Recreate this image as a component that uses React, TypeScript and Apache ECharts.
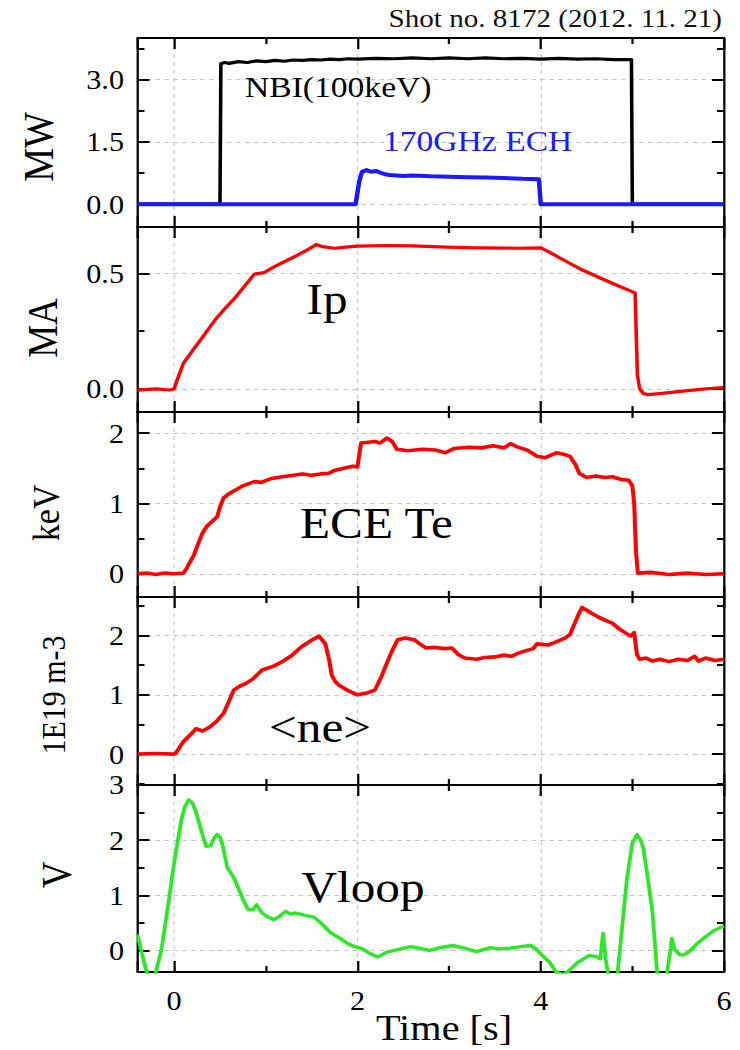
import React, { useEffect, useRef } from "react";
import * as echarts from "echarts";

// ---- time axis -------------------------------------------------------------
const TIME_MIN = -0.4;
const TIME_MAX = 6;
const TIME_STEP = 2;

// ---- panels (top to bottom) ---------------------------------------------------
const panelUnits = ["MW", "MA", "keV", "1E19 m-3", "V"];
const panelMin = [-0.55, -0.1, -0.33, -0.52, -0.39];
const panelMax = [4.0, 0.7, 2.3, 2.65, 3];
const panelStep = [1.5, 0.5, 1, 1, 1];
const panelDecimals = [1, 1, 0, 0, 0];

// ---- signals: [time (s), value] ----------------------------------------------
const nbiPower: [number, number][] = [
  [-0.4, 0], [0.49, 0], [0.5, 0], [0.51, 3.38], [0.55, 3.41], [0.6, 3.39], [0.7, 3.43],
  [0.8, 3.41], [0.9, 3.45], [1.0, 3.43], [1.1, 3.46], [1.2, 3.44], [1.3, 3.47], [1.4, 3.46],
  [1.5, 3.48], [1.6, 3.47], [1.7, 3.49], [1.8, 3.48], [1.9, 3.5], [2.0, 3.49], [2.2, 3.51],
  [2.4, 3.5], [2.6, 3.52], [2.8, 3.5], [3.0, 3.52], [3.2, 3.5], [3.4, 3.52], [3.6, 3.5],
  [3.8, 3.51], [4.0, 3.49], [4.2, 3.51], [4.4, 3.49], [4.6, 3.5], [4.8, 3.48], [4.99, 3.48],
  [5.0, 0], [6, 0],
];
const echPower: [number, number][] = [
  [-0.4, 0], [1.98, 0], [2.02, 0.55], [2.05, 0.78], [2.1, 0.82], [2.15, 0.78], [2.2, 0.8],
  [2.25, 0.76], [2.3, 0.72], [2.35, 0.7], [2.5, 0.68], [2.6, 0.69], [2.8, 0.67], [3.0, 0.66],
  [3.2, 0.65], [3.4, 0.64], [3.6, 0.63], [3.8, 0.61], [3.98, 0.6], [4.0, 0], [6, 0],
];
const plasmaCurrent: [number, number][] = [
  [-0.4, -0.005], [-0.2, 0.0], [-0.05, -0.005], [0.0, 0.0], [0.02, 0.024], [0.1, 0.11],
  [0.2, 0.165], [0.31, 0.224], [0.45, 0.3], [0.55, 0.345], [0.67, 0.396], [0.78, 0.45],
  [0.875, 0.496], [0.98, 0.503], [1.1, 0.53], [1.29, 0.567], [1.45, 0.6], [1.55, 0.624],
  [1.62, 0.615], [1.75, 0.608], [1.9, 0.614], [2.0, 0.617], [2.31, 0.62], [2.6, 0.618],
  [2.98, 0.613], [3.3, 0.61], [3.75, 0.608], [4.0, 0.61], [4.1, 0.59], [4.27, 0.553],
  [4.45, 0.515], [4.68, 0.474], [4.85, 0.445], [5.03, 0.415], [5.045, 0.2], [5.055, 0.06],
  [5.08, 0.0], [5.12, -0.02], [5.17, -0.025], [5.35, -0.018], [5.55, -0.01], [5.8, 0.0],
  [5.99, 0.006],
];
const eceTe: [number, number][] = [
  [-0.4, 0.0], [-0.3, 0.01], [-0.2, -0.01], [-0.1, 0.01], [0.0, 0.0], [0.1, 0.01], [0.13, 0.06],
  [0.17, 0.16], [0.21, 0.25], [0.26, 0.42], [0.31, 0.58], [0.36, 0.68], [0.41, 0.74],
  [0.47, 0.81], [0.5, 0.95], [0.54, 1.08], [0.6, 1.14], [0.67, 1.19], [0.75, 1.25],
  [0.875, 1.31], [0.95, 1.3], [1.05, 1.35], [1.18, 1.38], [1.3, 1.4], [1.4, 1.42], [1.5, 1.4],
  [1.6, 1.42], [1.69, 1.43], [1.75, 1.47], [1.85, 1.5], [1.95, 1.53], [2.0, 1.52], [2.04, 1.86],
  [2.12, 1.87], [2.19, 1.88], [2.25, 1.86], [2.32, 1.93], [2.38, 1.88], [2.43, 1.77],
  [2.55, 1.75], [2.71, 1.77], [2.85, 1.76], [2.96, 1.72], [3.05, 1.78], [3.22, 1.8],
  [3.35, 1.79], [3.48, 1.82], [3.6, 1.79], [3.67, 1.85], [3.75, 1.8], [3.85, 1.76],
  [3.96, 1.67], [4.05, 1.65], [4.17, 1.72], [4.25, 1.7], [4.32, 1.67], [4.38, 1.55],
  [4.42, 1.43], [4.5, 1.37], [4.6, 1.39], [4.7, 1.37], [4.78, 1.38], [4.88, 1.34],
  [4.96, 1.33], [5.0, 1.25], [5.02, 1.0], [5.04, 0.3], [5.06, 0.01], [5.2, 0.02],
  [5.4, -0.01], [5.6, 0.01], [5.8, -0.01], [6.0, 0.0],
];
const lineDensity: [number, number][] = [
  [-0.4, 0.0], [-0.2, 0.01], [0.0, 0.0], [0.02, 0.02], [0.1, 0.21], [0.18, 0.33], [0.24, 0.43],
  [0.31, 0.39], [0.38, 0.45], [0.46, 0.55], [0.54, 0.69], [0.6, 0.9], [0.65, 1.08],
  [0.72, 1.15], [0.78, 1.19], [0.86, 1.27], [0.96, 1.42], [1.08, 1.48], [1.18, 1.56],
  [1.28, 1.66], [1.39, 1.81], [1.5, 1.92], [1.58, 1.99], [1.65, 1.86], [1.69, 1.6],
  [1.72, 1.33], [1.76, 1.22], [1.8, 1.16], [1.9, 1.07], [2.0, 1.0], [2.1, 1.03], [2.19, 1.08],
  [2.26, 1.3], [2.32, 1.53], [2.38, 1.75], [2.44, 1.93], [2.52, 1.96], [2.62, 1.93],
  [2.68, 1.86], [2.75, 1.79], [2.85, 1.8], [2.95, 1.78], [3.03, 1.79], [3.1, 1.68],
  [3.17, 1.62], [3.3, 1.6], [3.39, 1.63], [3.5, 1.64], [3.6, 1.67], [3.68, 1.65], [3.75, 1.7],
  [3.85, 1.75], [3.92, 1.78], [3.96, 1.86], [4.08, 1.84], [4.15, 1.88], [4.27, 1.96],
  [4.32, 2.02], [4.37, 2.2], [4.41, 2.35], [4.45, 2.47], [4.5, 2.43], [4.55, 2.38],
  [4.62, 2.32], [4.7, 2.26], [4.78, 2.21], [4.85, 2.12], [4.92, 2.05], [4.98, 1.99],
  [5.02, 2.05], [5.05, 1.68], [5.08, 1.6], [5.15, 1.62], [5.22, 1.57], [5.3, 1.6],
  [5.4, 1.56], [5.5, 1.6], [5.6, 1.58], [5.68, 1.65], [5.72, 1.57], [5.8, 1.62], [5.9, 1.58],
  [6.0, 1.6],
];
const loopVoltage: [number, number][] = [
  [-0.4, 0.29], [-0.36, 0.0], [-0.3, -0.39], [-0.25, -0.6], [-0.2, -0.39], [-0.14, 0.0],
  [-0.1, 0.44], [-0.05, 1.0], [0.0, 1.59], [0.04, 2.0], [0.08, 2.38], [0.12, 2.62],
  [0.16, 2.73], [0.2, 2.67], [0.24, 2.5], [0.3, 2.15], [0.35, 1.89], [0.4, 1.9], [0.44, 2.05],
  [0.47, 2.1], [0.5, 2.06], [0.53, 1.9], [0.58, 1.5], [0.62, 1.4], [0.66, 1.29], [0.72, 1.05],
  [0.77, 0.86], [0.81, 0.74], [0.86, 0.74], [0.9, 0.83], [0.93, 0.75], [0.96, 0.68],
  [1.02, 0.61], [1.09, 0.56], [1.15, 0.62], [1.22, 0.71], [1.27, 0.66], [1.32, 0.68],
  [1.42, 0.64], [1.53, 0.6], [1.6, 0.5], [1.66, 0.4], [1.71, 0.32], [1.81, 0.22], [1.9, 0.12],
  [1.97, 0.07], [2.04, 0.04], [2.12, -0.04], [2.22, -0.12], [2.32, -0.03], [2.45, 0.02],
  [2.58, 0.07], [2.68, 0.04], [2.79, 0.0], [2.9, 0.05], [3.04, 0.09], [3.15, 0.05],
  [3.3, -0.02], [3.45, 0.05], [3.55, 0.03], [3.66, 0.04], [3.78, 0.07], [3.89, 0.09],
  [3.95, 0.03], [4.01, -0.08], [4.1, -0.22], [4.17, -0.39], [4.24, -0.44], [4.3, -0.38],
  [4.4, -0.22], [4.53, -0.09], [4.61, -0.11], [4.65, -0.15], [4.68, 0.31], [4.71, -0.17],
  [4.73, -0.39], [4.76, -0.9], [4.8, -0.8], [4.84, -0.39], [4.89, 0.45], [4.94, 1.29],
  [5.0, 1.95], [5.05, 2.1], [5.09, 2.0], [5.12, 1.85], [5.17, 1.3], [5.22, 0.68],
  [5.27, -0.39], [5.31, -0.9], [5.35, -0.9], [5.38, -0.39], [5.42, 0.05], [5.43, 0.22],
  [5.46, 0.02], [5.52, -0.08], [5.56, -0.08], [5.62, -0.02], [5.71, 0.13], [5.8, 0.25],
  [5.87, 0.34], [5.95, 0.41], [6.0, 0.44],
];

// ---- page layout -------------------------------------------------------------
const PAGE_W = 740;
const PAGE_H = 1050;
const CHART_W = 661; // drawn narrower, then widened horizontally on the page
const STRETCH = PAGE_W / CHART_W;
const px = (pageX: number) => pageX / STRETCH;

const GRID_LEFT = 137.5;
const GRID_RIGHT = 724;
const gridTops = [38, 227, 412, 597, 785];
const gridHeights = [189, 185, 185, 188, 187];

const SERIF = "'Liberation Serif', 'Times New Roman', serif";
const INK = "#000";

// y-axis titles: page-space centre and font size
const unitCenterX = [39, 42.5, 46, 53.5, 56.5];
const unitCenterY = [147, 328, 513, 695, 875];
const unitFontSize = [38, 37, 34, 30, 37];

const tickLine = { color: INK, width: 2 };
const gridLine = { color: "#c4c4c4", width: 1, type: [4, 4] as number[] };

function buildOption(): echarts.EChartsOption {
  const grid: any[] = [];
  const xAxis: any[] = [];
  const yAxis: any[] = [];

  gridTops.forEach((top, i) => {
    grid.push({
      left: px(GRID_LEFT),
      width: px(GRID_RIGHT - GRID_LEFT),
      top,
      height: gridHeights[i],
      outerBoundsMode: "none",
      containLabel: false,
    });

    const isLast = i === gridTops.length - 1;
    for (const position of ["bottom", "top"]) {
      const main = position === "bottom";
      xAxis.push({
        type: "value",
        gridIndex: i,
        position,
        min: TIME_MIN,
        max: TIME_MAX,
        splitNumber: 3,
        minInterval: TIME_STEP,
        maxInterval: TIME_STEP,
        axisLine: { show: true, onZero: false, lineStyle: tickLine },
        axisTick: { show: true, inside: true, length: 11, lineStyle: tickLine },
        minorTick: { show: true, splitNumber: 2, length: 6, lineStyle: tickLine },
        axisLabel: {
          show: main && isLast,
          margin: 15,
          fontFamily: SERIF,
          fontSize: 27,
          color: INK,
          showMinLabel: false,
          showMaxLabel: true,
        },
        splitLine: { show: main, lineStyle: gridLine },
        minorSplitLine: { show: false },
      });
    }

    for (const position of ["left", "right"]) {
      const main = position === "left";
      yAxis.push({
        type: "value",
        gridIndex: i,
        position,
        min: panelMin[i],
        max: panelMax[i],
        minInterval: panelStep[i],
        maxInterval: panelStep[i],
        axisLine: { show: true, onZero: false, lineStyle: tickLine },
        axisTick: { show: true, inside: true, length: px(12), lineStyle: tickLine },
        minorTick: { show: true, splitNumber: 2, length: px(7), lineStyle: tickLine },
        axisLabel: {
          show: main,
          margin: px(13.5),
          fontFamily: SERIF,
          fontSize: 27,
          color: INK,
          showMinLabel: false,
          showMaxLabel: isLast,
          formatter: (v: number) => v.toFixed(panelDecimals[i]),
        },
        splitLine: { show: main, lineStyle: gridLine },
      });
    }
  });

  const line = (
    name: string,
    panel: number,
    data: [number, number][],
    color: string,
    width: number,
    z = 3
  ) => ({
    name,
    type: "line",
    xAxisIndex: panel * 2,
    yAxisIndex: panel * 2,
    data,
    symbol: "none",
    showSymbol: false,
    clip: true,
    z,
    lineStyle: { color, width, join: "round" },
    emphasis: { disabled: true },
  });

  const series = [
    line("NBI(100keV)", 0, nbiPower, "#000000", 3.2, 3),
    line("170GHz ECH", 0, echPower, "#1a1aff", 4, 4),
    line("Ip", 1, plasmaCurrent, "#ff0000", 3.2),
    line("ECE Te", 2, eceTe, "#ff0000", 3.6),
    line("<ne>", 3, lineDensity, "#ff0000", 3.6),
    line("Vloop", 4, loopVoltage, "#2ee62a", 3.4),
  ];

  const text = (
    content: string,
    pageX: number,
    baselineY: number,
    size: number,
    align: "left" | "center" | "right",
    fill = INK
  ) => ({
    type: "text",
    x: px(pageX),
    y: baselineY - 0.3375 * size,
    z: 10,
    style: {
      text: content,
      fontFamily: SERIF,
      fontSize: size,
      fill,
      align,
      textAlign: align,
      verticalAlign: "middle",
      textVerticalAlign: "middle",
    },
  });

  const graphic: any[] = [
    text("Shot no. 8172 (2012. 11. 21)", 722, 27, 26, "right", "#111"),
    text("NBI(100keV)", 245, 97, 30, "left"),
    text("170GHz ECH", 383, 151, 30, "left", "#1a1aff"),
    text("Ip", 306.5, 313.3, 44, "left"),
    text("ECE Te", 300, 538, 44, "left"),
    text("<ne>", 269, 741.7, 44, "left"),
    text("Vloop", 301.5, 901.7, 44, "left"),
    text("Time [s]", 444, 1040, 36, "center"),
  ];

  panelUnits.forEach((unit, i) => {
    graphic.push({
      type: "text",
      x: px(unitCenterX[i]),
      y: unitCenterY[i],
      rotation: Math.PI / 2,
      z: 10,
      style: {
        text: unit,
        fontFamily: SERIF,
        fontSize: unitFontSize[i],
        fill: INK,
        align: "center",
        textAlign: "center",
        verticalAlign: "middle",
        textVerticalAlign: "middle",
      },
    });
  });

  return {
    animation: false,
    backgroundColor: "#ffffff",
    grid,
    xAxis,
    yAxis,
    series: series as any,
    graphic,
  };
}

export default function App() {
  const ref = useRef<HTMLDivElement>(null);

  useEffect(() => {
    if (!ref.current) return;
    const chart = echarts.init(ref.current, null, {
      renderer: "svg",
      width: CHART_W,
      height: PAGE_H,
    });
    chart.setOption(buildOption());
    return () => chart.dispose();
  }, []);

  return (
    <div
      ref={ref}
      style={{
        position: "absolute",
        left: 0,
        top: 0,
        width: CHART_W,
        height: PAGE_H,
        background: "#fff",
        transform: `scaleX(${STRETCH})`,
        transformOrigin: "0 0",
      }}
    />
  );
}
